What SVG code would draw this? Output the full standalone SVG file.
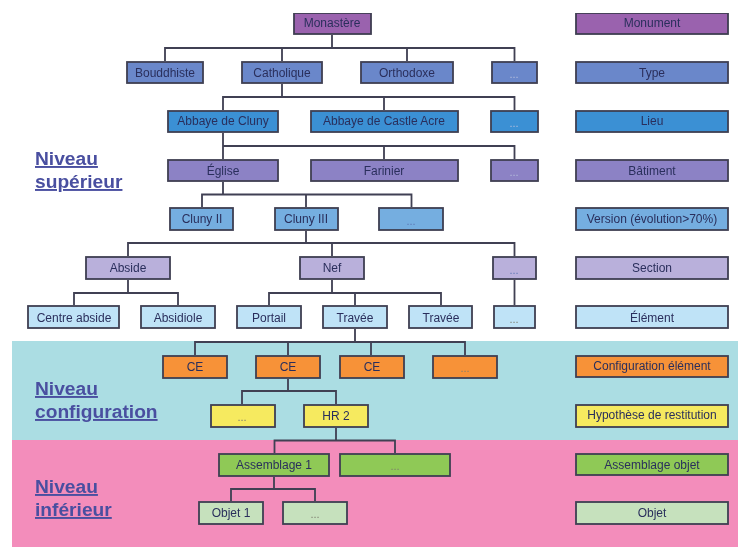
<svg xmlns="http://www.w3.org/2000/svg" width="738" height="547" viewBox="0 0 738 547">
<style>
.b{stroke:#3f3f52;stroke-width:1.8}
.t{font:12px "Liberation Sans",Arial,sans-serif;text-anchor:middle;fill:#2a2f5c}
.d{font:11px "Liberation Sans",Arial,sans-serif;text-anchor:middle;fill:#7f7f70}
.e{font:11px "Liberation Sans",Arial,sans-serif;text-anchor:middle;fill:#b4bedc}
.f{font:11px "Liberation Sans",Arial,sans-serif;text-anchor:middle;fill:#5f78b4}
.h{font:bold 19.200px "Liberation Sans",Arial,sans-serif;fill:#4a4fa0;text-decoration:underline}
.c{fill:none;stroke:#3f3f52;stroke-width:1.800}
.mon{fill:#9a62ae}.typ{fill:#6a87ca}.lie{fill:#3a90d4}.bat{fill:#8c82c5}.ver{fill:#74aee0}.sec{fill:#b9b0db}.ele{fill:#bfe3f7}.ce{fill:#f79239}.hr{fill:#f6ea5e}.ass{fill:#8fc956}.obj{fill:#c6e1bd}
</style>
<defs><filter id="s" x="0" y="0" width="100%" height="100%"><feGaussianBlur stdDeviation="0.4"/></filter></defs>
<rect width="738" height="547" fill="#fff"/>
<g filter="url(#s)">
<rect x="12" y="341" width="726" height="99" fill="#abdde3"/>
<rect x="12" y="440" width="726" height="107" fill="#f38dbb"/>
<g id="connectors" class="c">
<path d="M332 35V48M165 61V48H514.5V61M282 48V61M407 48V61"/>
<path d="M282 84V97M223 110V97H514.5V110M384 97V110"/>
<path d="M223 133V159M223 146H514.5V159M384 146V159"/>
<path d="M223 182V194.5M202 207V194.5H411.5V207M306 194.5V207"/>
<path d="M306 231V243M128 256V243H514.5V256M332 243V256"/>
<path d="M128 280V293M74 305V293H178V305"/>
<path d="M332 280V293M269 305V293H441V305M355 293V305"/>
<path d="M514.5 280V305"/>
<path d="M355 329V342M195 355V342H465V355M288 342V355M371 342V355"/>
<path d="M288 379V391M242 404V391H336V404"/>
<path d="M336 428V440.5M274.5 453V440.5H395V453"/>
<path d="M274 477V489M231 501V489H315V501"/>
</g>
<g id="n1"><rect class="b mon" x="294" y="13" width="77" height="21"/><text class="t" x="332" y="27">Monastère</text></g>
<g id="n2"><rect class="b typ" x="127" y="62" width="76" height="21"/><text class="t" x="165" y="77">Bouddhiste</text></g>
<g id="n3"><rect class="b typ" x="242" y="62" width="80" height="21"/><text class="t" x="282" y="77">Catholique</text></g>
<g id="n4"><rect class="b typ" x="361" y="62" width="92" height="21"/><text class="t" x="407" y="77">Orthodoxe</text></g>
<g id="n5"><rect class="b typ" x="492" y="62" width="45" height="21"/><text class="e" x="514" y="78">...</text></g>
<g id="n6"><rect class="b lie" x="168" y="111" width="110" height="21"/><text class="t" x="223" y="125">Abbaye de Cluny</text></g>
<g id="n7"><rect class="b lie" x="311" y="111" width="147" height="21"/><text class="t" x="384" y="125">Abbaye de Castle Acre</text></g>
<g id="n8"><rect class="b lie" x="491" y="111" width="47" height="21"/><text class="e" x="514" y="127">...</text></g>
<g id="n9"><rect class="b bat" x="168" y="160" width="110" height="21"/><text class="t" x="223" y="175">Église</text></g>
<g id="n10"><rect class="b bat" x="311" y="160" width="147" height="21"/><text class="t" x="384" y="175">Farinier</text></g>
<g id="n11"><rect class="b bat" x="491" y="160" width="47" height="21"/><text class="e" x="514" y="176">...</text></g>
<g id="n12"><rect class="b ver" x="170" y="208" width="63" height="22"/><text class="t" x="202" y="223">Cluny II</text></g>
<g id="n13"><rect class="b ver" x="275" y="208" width="63" height="22"/><text class="t" x="306" y="223">Cluny III</text></g>
<g id="n14"><rect class="b ver" x="379" y="208" width="64" height="22"/><text class="f" x="411" y="225">...</text></g>
<g id="n15"><rect class="b sec" x="86" y="257" width="84" height="22"/><text class="t" x="128" y="272">Abside</text></g>
<g id="n16"><rect class="b sec" x="300" y="257" width="64" height="22"/><text class="t" x="332" y="272">Nef</text></g>
<g id="n17"><rect class="b sec" x="493" y="257" width="43" height="22"/><text class="f" x="514" y="274">...</text></g>
<g id="n18"><rect class="b ele" x="28" y="306" width="91" height="22"/><text class="t" x="74" y="322">Centre abside</text></g>
<g id="n19"><rect class="b ele" x="141" y="306" width="74" height="22"/><text class="t" x="178" y="322">Absidiole</text></g>
<g id="n20"><rect class="b ele" x="237" y="306" width="64" height="22"/><text class="t" x="269" y="322">Portail</text></g>
<g id="n21"><rect class="b ele" x="323" y="306" width="64" height="22"/><text class="t" x="355" y="322">Travée</text></g>
<g id="n22"><rect class="b ele" x="409" y="306" width="63" height="22"/><text class="t" x="441" y="322">Travée</text></g>
<g id="n23"><rect class="b ele" x="494" y="306" width="41" height="22"/><text class="d" x="514" y="323">...</text></g>
<g id="n24"><rect class="b ce" x="163" y="356" width="64" height="22"/><text class="t" x="195" y="371">CE</text></g>
<g id="n25"><rect class="b ce" x="256" y="356" width="64" height="22"/><text class="t" x="288" y="371">CE</text></g>
<g id="n26"><rect class="b ce" x="340" y="356" width="64" height="22"/><text class="t" x="372" y="371">CE</text></g>
<g id="n27"><rect class="b ce" x="433" y="356" width="64" height="22"/><text class="d" x="465" y="372">...</text></g>
<g id="n28"><rect class="b hr" x="211" y="405" width="64" height="22"/><text class="d" x="242" y="421">...</text></g>
<g id="n29"><rect class="b hr" x="304" y="405" width="64" height="22"/><text class="t" x="336" y="420">HR 2</text></g>
<g id="n30"><rect class="b ass" x="219" y="454" width="110" height="22"/><text class="t" x="274" y="469">Assemblage 1</text></g>
<g id="n31"><rect class="b ass" x="340" y="454" width="110" height="22"/><text class="d" x="395" y="470">...</text></g>
<g id="n32"><rect class="b obj" x="199" y="502" width="64" height="22"/><text class="t" x="231" y="517">Objet 1</text></g>
<g id="n33"><rect class="b obj" x="283" y="502" width="64" height="22"/><text class="d" x="315" y="518">...</text></g>
<g id="l1"><rect class="b mon" x="576" y="13" width="152" height="21"/><text class="t" x="652" y="27">Monument</text></g>
<g id="l2"><rect class="b typ" x="576" y="62" width="152" height="21"/><text class="t" x="652" y="77">Type</text></g>
<g id="l3"><rect class="b lie" x="576" y="111" width="152" height="21"/><text class="t" x="652" y="125">Lieu</text></g>
<g id="l4"><rect class="b bat" x="576" y="160" width="152" height="21"/><text class="t" x="652" y="175">Bâtiment</text></g>
<g id="l5"><rect class="b ver" x="576" y="208" width="152" height="22"/><text class="t" x="652" y="223">Version (évolution&gt;70%)</text></g>
<g id="l6"><rect class="b sec" x="576" y="257" width="152" height="22"/><text class="t" x="652" y="272">Section</text></g>
<g id="l7"><rect class="b ele" x="576" y="306" width="152" height="22"/><text class="t" x="652" y="322">Élément</text></g>
<g id="l8"><rect class="b ce" x="576" y="356" width="152" height="21"/><text class="t" x="652" y="370">Configuration élément</text></g>
<g id="l9"><rect class="b hr" x="576" y="405" width="152" height="22"/><text class="t" x="652" y="419">Hypothèse de restitution</text></g>
<g id="l10"><rect class="b ass" x="576" y="454" width="152" height="21"/><text class="t" x="652" y="469">Assemblage objet</text></g>
<g id="l11"><rect class="b obj" x="576" y="502" width="152" height="22"/><text class="t" x="652" y="517">Objet</text></g>
<g id="headings">
<text class="h" x="35" y="165">Niveau</text><text class="h" x="35" y="188">supérieur</text>
<text class="h" x="35" y="395">Niveau</text><text class="h" x="35" y="418">configuration</text>
<text class="h" x="35" y="493">Niveau</text><text class="h" x="35" y="516">inférieur</text>
</g>
</g>
</svg>
